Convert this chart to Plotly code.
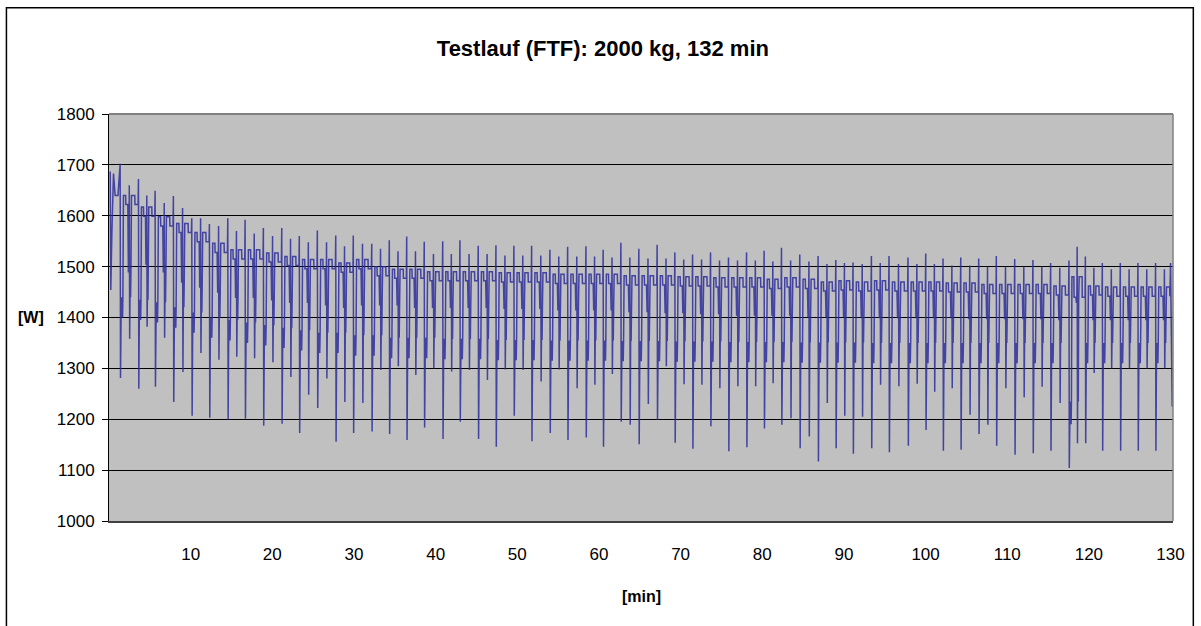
import plotly.graph_objects as go

# ---- data (time in minutes, power in W) ----
# start of the record (half cycle before the first full cycle)
lead_t = [0.15, 0.22, 0.35, 0.55, 0.75, 1.10]
lead_w = [1687, 1454, 1565, 1683, 1640, 1640]

# times of the deep dips of each lifting cycle
t_deep = [1.41, 3.65, 5.69, 7.93, 10.18, 12.34, 14.59, 16.71, 18.95, 21.20,
          23.35, 25.56, 27.81, 29.96, 32.22, 34.37, 36.50, 38.65, 40.91, 43.02,
          45.26, 47.43, 49.63, 51.80, 54.04, 56.21, 58.45, 60.56, 62.73, 64.93,
          67.17, 69.34, 71.51, 73.71, 75.91, 78.12, 80.27, 82.40, 84.64, 86.88,
          89.05, 91.16, 93.41, 95.57, 97.89, 100.06, 102.18, 104.35, 106.55, 108.71,
          110.96, 113.19, 115.36, 117.60, 119.61, 121.69, 123.89, 126.05, 128.21]

# spike just before each deep dip
w_peak = [1702, 1672, 1649, 1639, 1595, 1584, 1595, 1592, 1576, 1576,
          1560, 1571, 1561, 1561, 1545, 1552, 1559, 1549, 1550, 1552,
          1541, 1542, 1541, 1541, 1533, 1539, 1540, 1533, 1547, 1535,
          1543, 1528, 1524, 1528, 1518, 1528, 1531, 1537, 1524, 1521,
          1513, 1508, 1521, 1521, 1518, 1526, 1516, 1518, 1516, 1521,
          1515, 1513, 1507, 1512, 1520, 1507, 1507, 1507, 1507]

# deep dip minimum
w_deep = [1281, 1260, 1264, 1234, 1207, 1203, 1199, 1201, 1187, 1191,
          1173, 1222, 1156, 1173, 1176, 1171, 1159, 1184, 1161, 1195,
          1161, 1146, 1207, 1157, 1173, 1159, 1164, 1146, 1195, 1151,
          1199, 1154, 1142, 1186, 1137, 1145, 1182, 1189, 1143, 1117,
          1143, 1132, 1143, 1135, 1148, 1179, 1138, 1140, 1171, 1148,
          1130, 1133, 1138, 1104, 1153, 1138, 1138, 1138, 1138]

# band held right after the deep dip (lower / upper edge)
w_blob = [1400, 1395, 1390, 1380, 1370, 1360, 1355, 1350, 1345, 1340,
          1335, 1330, 1330, 1325, 1325, 1320, 1320, 1320, 1318, 1318,
          1318, 1316, 1316, 1316, 1315, 1315, 1315, 1315, 1314, 1314,
          1314, 1313, 1313, 1313, 1312, 1312, 1312, 1312, 1311, 1311,
          1311, 1311, 1310, 1310, 1310, 1310, 1310, 1310, 1310, 1310,
          1310, 1310, 1310, 1190, 1310, 1310, 1310, 1310, 1310]
w_blob_hi = [1440, 1435, 1430, 1420, 1410, 1400, 1395, 1390, 1385, 1380,
             1375, 1370, 1370, 1365, 1365, 1360, 1360, 1360, 1358, 1358,
             1358, 1356, 1356, 1356, 1355, 1355, 1355, 1355, 1354, 1354,
             1354, 1353, 1353, 1353, 1352, 1352, 1352, 1352, 1351, 1351,
             1351, 1351, 1350, 1350, 1350, 1350, 1350, 1350, 1350, 1350,
             1350, 1350, 1350, 1235, 1350, 1350, 1350, 1350, 1350]

# plateau of the cycle (upper and lower step)
w_plateau = [1640, 1617, 1598, 1585, 1567, 1546, 1533, 1533, 1527, 1520,
             1514, 1514, 1507, 1514, 1500, 1495, 1495, 1490, 1490, 1490,
             1490, 1488, 1488, 1488, 1485, 1485, 1485, 1485, 1482, 1482,
             1482, 1480, 1480, 1478, 1478, 1478, 1475, 1478, 1475, 1470,
             1472, 1470, 1472, 1470, 1470, 1470, 1468, 1468, 1465, 1465,
             1465, 1465, 1462, 1480, 1462, 1460, 1460, 1460, 1460]
w_plateau_lo = [1622, 1599, 1580, 1567, 1549, 1528, 1515, 1515, 1509, 1502,
                1496, 1496, 1489, 1496, 1482, 1477, 1477, 1472, 1472, 1472,
                1472, 1470, 1470, 1470, 1467, 1467, 1467, 1467, 1464, 1464,
                1464, 1462, 1462, 1460, 1460, 1460, 1457, 1460, 1457, 1452,
                1454, 1452, 1454, 1452, 1452, 1452, 1450, 1450, 1447, 1447,
                1447, 1447, 1444, 1440, 1444, 1442, 1442, 1442, 1442]

# intermediate step around the shallow dip
w_mid = [1490, 1505, 1490, 1470, 1460, 1450, 1440, 1440, 1435, 1430,
         1430, 1425, 1420, 1425, 1425, 1425, 1420, 1420, 1420, 1420,
         1420, 1418, 1418, 1418, 1415, 1415, 1415, 1415, 1412, 1412,
         1410, 1410, 1408, 1408, 1405, 1405, 1405, 1405, 1402, 1402,
         1402, 1400, 1400, 1400, 1400, 1400, 1400, 1398, 1398, 1398,
         1398, 1398, 1396, 1430, 1396, 1396, 1396, 1396, 1396]

# small spike before the shallow dip
w_spike2 = [1660, 1640, 1625, 1615, 1595, 1580, 1570, 1565, 1560, 1555,
            1548, 1548, 1540, 1545, 1535, 1530, 1530, 1525, 1525, 1525,
            1525, 1522, 1522, 1522, 1520, 1520, 1520, 1518, 1518, 1516,
            1516, 1514, 1514, 1512, 1512, 1512, 1510, 1512, 1510, 1505,
            1507, 1505, 1507, 1505, 1505, 1505, 1502, 1502, 1500, 1500,
            1500, 1500, 1498, 1539, 1498, 1495, 1495, 1495, 1495]

# shallow dip minimum
w_shallow = [1358, 1382, 1360, 1293, 1330, 1317, 1323, 1320, 1312, 1283,
             1248, 1280, 1234, 1232, 1297, 1304, 1287, 1300, 1294, 1297,
             1277, 1298, 1297, 1274, 1298, 1261, 1268, 1289, 1189, 1230,
             1304, 1269, 1268, 1261, 1265, 1265, 1271, 1202, 1166, 1232,
             1207, 1205, 1268, 1265, 1270, 1254, 1261, 1209, 1189, 1261,
             1243, 1264, 1232, 1153, 1291, 1300, 1300, 1300, 1300]

# end of the record
tail_t = [130.00, 130.20]
tail_w = [1507, 1225]

x_ticks = [10, 20, 30, 40, 50, 60, 70, 80, 90, 100, 110, 120, 130]
y_ticks = [1000, 1100, 1200, 1300, 1400, 1500, 1600, 1700, 1800]

# ---- assemble the trace from the per-cycle readings ----
xs = list(lead_t)
ys = list(lead_w)
n = len(t_deep)
for i in range(n):
    T = t_deep[i]
    P = (t_deep[i + 1] - T) if i + 1 < n else (t_deep[i] - t_deep[i - 1])
    seq = [
        (-0.02, w_peak[i]), (0.0, w_deep[i]),
        (0.03, w_blob[i]), (0.05, w_blob_hi[i]), (0.07, w_blob[i]),
        (0.09, w_blob_hi[i]), (0.11, w_blob[i]), (0.13, w_blob_hi[i]),
        (0.16, w_plateau[i]), (0.28, w_plateau[i]), (0.29, w_plateau_lo[i]),
        (0.40, w_plateau_lo[i]), (0.43, w_mid[i]), (0.46, w_mid[i]),
        (0.48, w_spike2[i]), (0.50, w_shallow[i]), (0.53, w_mid[i]),
        (0.55, w_blob_hi[i]), (0.57, w_mid[i]),
        (0.60, w_plateau[i]), (0.78, w_plateau[i]), (0.79, w_plateau_lo[i]),
        (0.96, w_plateau_lo[i]),
    ]
    for f, w in seq:
        t = T + f * P
        if t < tail_t[0]:
            xs.append(t)
            ys.append(w)
xs += tail_t
ys += tail_w

fig = go.Figure()
fig.add_trace(go.Scatter(
    x=xs, y=ys, mode="lines",
    line=dict(color="rgba(45,45,155,0.85)", width=1.5, simplify=False),
    showlegend=False, hoverinfo="skip",
))

font_family = "Liberation Sans, Arial, sans-serif"

fig.update_layout(
    width=1201, height=626,
    margin=dict(l=109, r=28, t=114, b=105),
    paper_bgcolor="white",
    plot_bgcolor="#C0C0C0",
    font=dict(family=font_family, color="black", size=17),
    title=dict(
        text="<b>Testlauf (FTF): 2000 kg, 132 min</b>",
        x=0.502, xref="container", xanchor="center",
        y=1 - 48 / 626, yref="container", yanchor="middle",
        font=dict(family=font_family, size=22, color="black"),
    ),
    xaxis=dict(
        range=[0, 130.3],
        tickmode="array", tickvals=x_ticks, ticktext=[str(v) for v in x_ticks],
        showgrid=False, zeroline=False,
        showline=True, linecolor="#404040", linewidth=2,
        ticks="", ticklabelstandoff=17,
        tickfont=dict(size=17),
    ),
    yaxis=dict(
        range=[1000, 1800],
        tickmode="array", tickvals=y_ticks, ticktext=[str(v) for v in y_ticks],
        showgrid=True, gridcolor="black", gridwidth=1,
        zeroline=False,
        showline=True, linecolor="black", linewidth=1,
        ticks="outside", ticklen=6, tickcolor="black", tickwidth=1,
        ticklabelstandoff=4,
        tickfont=dict(size=17),
    ),
    annotations=[
        dict(text="<b>[W]</b>", xref="paper", yref="y", x=-0.0733, y=1400,
             xanchor="center", yanchor="middle", showarrow=False,
             font=dict(family=font_family, size=16, color="black")),
        dict(text="<b>[min]</b>", xref="paper", yref="paper", x=0.5, y=-0.185,
             xanchor="center", yanchor="middle", showarrow=False,
             font=dict(family=font_family, size=16, color="black")),
    ],
    shapes=[
        dict(type="line", xref="paper", yref="paper", x0=0, x1=1, y0=1, y1=1,
             line=dict(color="#808080", width=2)),
        dict(type="line", xref="paper", yref="paper", x0=1, x1=1, y0=0, y1=1,
             line=dict(color="#808080", width=1.5)),
        dict(type="rect", xref="paper", yref="paper",
             x0=-0.0964, x1=1.0191, y0=-0.29, y1=1.2613,
             line=dict(color="black", width=1.5), fillcolor="rgba(0,0,0,0)"),
    ],
)

fig.write_html("out.html", post_script="document.body.style.margin='0';",
               config={"displayModeBar": False})
